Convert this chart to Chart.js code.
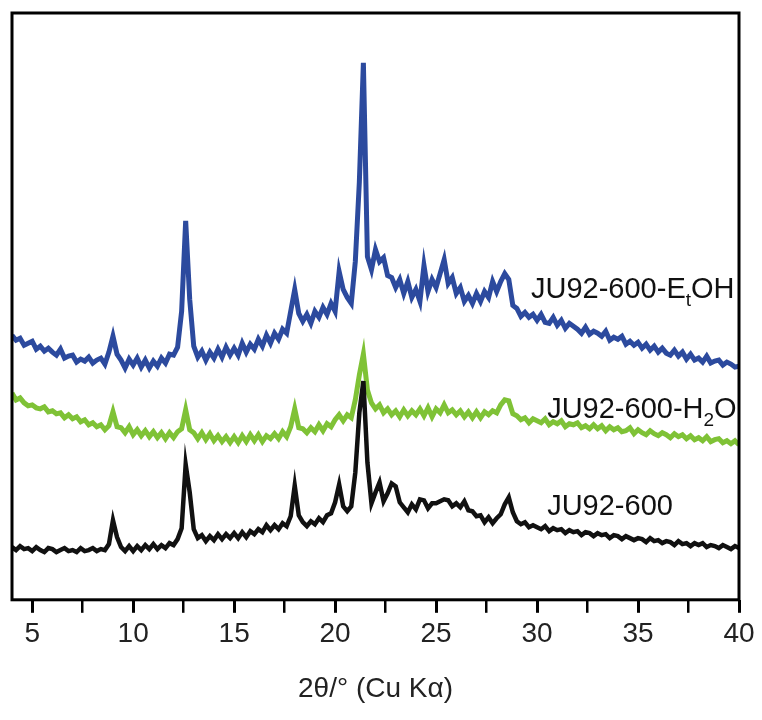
<!DOCTYPE html>
<html>
<head>
<meta charset="utf-8">
<script src="https://cdn.jsdelivr.net/npm/chart.js@4"></script>
<style>
  html, body { margin: 0; padding: 0; background: #fff; }
  #wrap { width: 762px; height: 720px; }
</style>
</head>
<body>
<div id="wrap"><canvas id="xrdChart" width="762" height="720"></canvas></div>
<script>
// 2θ en grados (paso 0.2)
const twoTheta = [
  4.0,4.2,4.4,4.6,4.8, 5.0,5.2,5.4,5.6,5.8, 6.0,6.2,6.4,6.6,6.8, 7.0,7.2,7.4,7.6,7.8,
  8.0,8.2,8.4,8.6,8.8, 9.0,9.2,9.4,9.6,9.8, 10.0,10.2,10.4,10.6,10.8, 11.0,11.2,11.4,11.6,11.8,
  12.0,12.2,12.4,12.6,12.8, 13.0,13.2,13.4,13.6,13.8, 14.0,14.2,14.4,14.6,14.8, 15.0,15.2,15.4,15.6,15.8,
  16.0,16.2,16.4,16.6,16.8, 17.0,17.2,17.4,17.6,17.8, 18.0,18.2,18.4,18.6,18.8, 19.0,19.2,19.4,19.6,19.8,
  20.0,20.2,20.4,20.6,20.8, 21.0,21.2,21.4,21.6,21.8, 22.0,22.2,22.4,22.6,22.8, 23.0,23.2,23.4,23.6,23.8,
  24.0,24.2,24.4,24.6,24.8, 25.0,25.2,25.4,25.6,25.8, 26.0,26.2,26.4,26.6,26.8, 27.0,27.2,27.4,27.6,27.8,
  28.0,28.2,28.4,28.6,28.8, 29.0,29.2,29.4,29.6,29.8, 30.0,30.2,30.4,30.6,30.8, 31.0,31.2,31.4,31.6,31.8,
  32.0,32.2,32.4,32.6,32.8, 33.0,33.2,33.4,33.6,33.8, 34.0,34.2,34.4,34.6,34.8, 35.0,35.2,35.4,35.6,35.8,
  36.0,36.2,36.4,36.6,36.8, 37.0,37.2,37.4,37.6,37.8, 38.0,38.2,38.4,38.6,38.8, 39.0,39.2,39.4,39.6,39.8,
  40.0
];

// Intensidad (u.a., con desplazamiento vertical)
const ju92 = [
  53,50,54,51,52, 49,53,50,48,52, 51,48,50,52,49, 50,48,52,49,50,
  52,49,51,50,56, 80,63,53,49,54, 49,54,50,55,51, 56,51,55,52,57,
  55,61,72,136,108, 71,62,65,59,64, 60,66,61,66,62, 67,62,68,63,69,
  66,71,68,75,70, 75,71,77,74,84, 115,85,78,74,79, 76,82,78,85,87,
  98,116,94,89,94, 128,188,220,138,97, 108,118,99,107,117, 114,98,93,88,96,
  91,101,100,92,97, 97,99,101,100,94, 97,93,99,90,89, 84,85,78,83,77,
  82,86,96,103,88, 79,76,78,73,75, 73,71,74,69,72, 70,71,67,70,68,
  69,65,68,67,64, 67,65,66,62,65, 64,61,64,62,60, 62,61,58,62,59,
  60,57,59,58,55, 59,56,57,54,57, 55,57,53,55,54, 52,55,53,51,54,
  52
];

const ju92H2O = [
  208,201,203,198,195, 196,193,192,194,189, 190,187,188,183,186, 182,184,179,181,176,
  178,174,176,171,175, 189,174,173,168,174, 166,171,165,170,164, 169,163,168,162,168,
  163,169,172,191,171, 168,162,168,161,167, 160,165,159,164,158, 164,158,165,159,166,
  160,166,159,165,162, 167,162,169,164,174, 192,173,172,168,173, 169,176,170,177,174,
  181,186,180,186,183, 201,226,247,211,198, 192,196,188,192,186, 190,184,191,185,190,
  186,192,185,193,184, 192,188,196,188,191, 186,190,184,189,183, 189,183,189,186,190,
  188,196,201,200,187, 185,181,183,178,182, 180,178,182,176,179, 177,180,174,177,176,
  178,173,175,172,176, 172,175,170,174,171, 173,169,170,173,167, 171,168,166,170,167,
  165,168,166,163,167, 164,166,162,165,161, 163,160,164,159,161, 162,158,160,157,160,
  156
];

const ju92EtOH = [
  266,261,263,256,258, 260,252,255,250,253, 249,246,252,243,245, 246,239,242,240,244,
  238,241,243,237,249, 265,247,241,233,242, 236,243,234,241,233, 240,235,243,238,247,
  246,254,290,381,302, 255,244,250,241,249, 243,252,244,254,246, 253,246,258,249,257,
  252,262,255,266,258, 268,262,272,268,290, 312,288,280,287,278, 290,284,294,287,298,
  290,330,312,304,298, 340,420,540,345,332, 352,340,344,326,324, 314,322,308,320,304,
  312,300,336,310,322, 314,328,342,318,324, 308,314,300,306,298, 308,300,310,304,320,
  310,320,328,322,296, 293,285,289,284,287, 281,287,279,278,284, 276,281,273,278,275,
  272,268,274,267,270, 268,265,270,261,264, 262,265,257,260,256, 259,253,257,251,255,
  249,253,248,246,251, 245,249,242,247,241, 243,239,245,238,240, 241,236,239,237,234,
  235
];

const xTicks = [5, 7.5, 10, 12.5, 15, 17.5, 20, 22.5, 25, 27.5, 30, 32.5, 35, 37.5, 40];

// Etiquetas de cada patrón (partes normales y subíndices)
const seriesLabels = [
  [["JU92-600", false]],
  [["JU92-600-H", false], ["2", true], ["O", false]],
  [["JU92-600-E", false], ["t", true], ["OH", false]]
];
const labelX = [30.5, 30.5, 29.7];
const labelY = [85, 183, 303];

const colors = ["#111111", "#7fc236", "#2c4a9e"];
const widths = [4.5, 5, 5];
const seriesData = [ju92, ju92H2O, ju92EtOH];

function toPoints(arr) {
  return arr.map((v, i) => ({ x: twoTheta[i], y: v }));
}

// Marco alrededor del área del gráfico + etiquetas de series
const framePlugin = {
  id: "frame",
  afterDatasetsDraw(chart) {
    const { ctx, chartArea: a, scales } = chart;
    ctx.save();
    ctx.strokeStyle = "#000";
    ctx.lineWidth = 3;
    ctx.strokeRect(a.left, a.top, a.right - a.left, a.bottom - a.top);

    ctx.fillStyle = "#111";
    ctx.textBaseline = "alphabetic";
    seriesLabels.forEach((parts, i) => {
      let x = scales.x.getPixelForValue(labelX[i]);
      const y = scales.y.getPixelForValue(labelY[i]);
      parts.forEach(([txt, sub]) => {
        ctx.font = sub ? "19px 'Liberation Sans', Arial, sans-serif" : "29px 'Liberation Sans', Arial, sans-serif";
        ctx.fillText(txt, x, sub ? y + 8 : y);
        x += ctx.measureText(txt).width;
      });
    });
    ctx.restore();
  }
};

const ctx = document.getElementById("xrdChart").getContext("2d");

new Chart(ctx, {
  type: "line",
  data: {
    datasets: seriesData.map((d, i) => ({
      data: toPoints(d),
      borderColor: colors[i],
      borderWidth: widths[i],
      pointRadius: 0,
      tension: 0,
      fill: false
    }))
  },
  options: {
    responsive: false,
    animation: false,
    events: [],
    layout: { padding: { left: 12, right: 23, top: 13, bottom: 14 } },
    plugins: { legend: { display: false }, tooltip: { enabled: false } },
    scales: {
      x: {
        type: "linear",
        min: 4,
        max: 40,
        afterBuildTicks: (axis) => { axis.ticks = xTicks.map(v => ({ value: v })); },
        border: { display: false },
        grid: {
          drawOnChartArea: false,
          drawTicks: true,
          tickLength: 13,
          tickColor: "#000",
          lineWidth: (c) => (c.tick && c.tick.value % 5 === 0 ? 3 : 2.5)
        },
        ticks: {
          padding: 5,
          color: "#222",
          font: { family: "'Liberation Sans', Arial, sans-serif", size: 28 },
          maxRotation: 0,
          autoSkip: false,
          callback: (v) => (v % 5 === 0 ? String(v) : "")
        },
        title: {
          display: true,
          text: "2θ/° (Cu Kα)",
          color: "#222",
          font: { family: "'Liberation Sans', Arial, sans-serif", size: 28 },
          padding: { top: 16, bottom: 0 }
        }
      },
      y: {
        display: false,
        min: 0,
        max: 590
      }
    }
  },
  plugins: [framePlugin]
});
</script>
</body>
</html>
